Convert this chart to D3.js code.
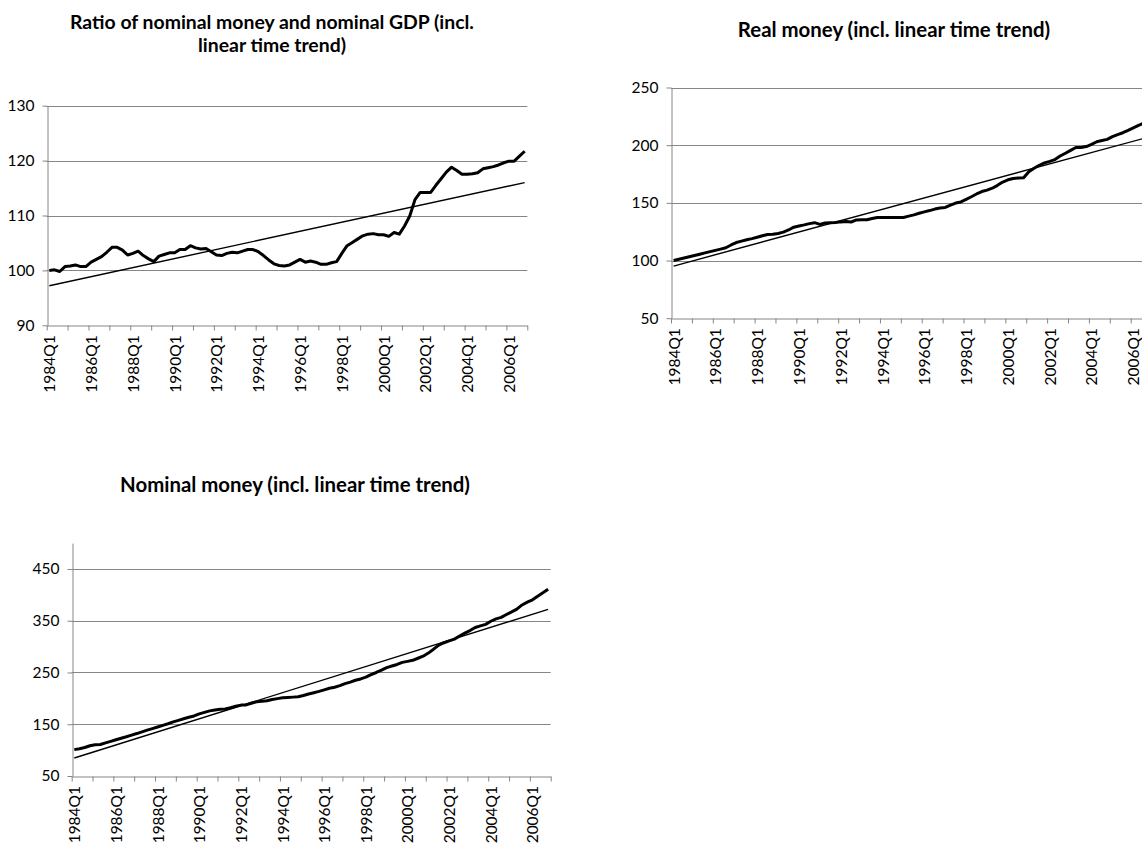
<!DOCTYPE html>
<html>
<head>
<meta charset="utf-8">
<script src="https://cdn.jsdelivr.net/npm/d3@7"></script>
<style>
  body { margin: 0; background: #fff; }
  text { font-family: Lato, "Open Sans", sans-serif; fill: #000; }
  .axis path, .axis line { stroke: #868686; }
</style>
</head>
<body>
<svg id="chart" width="1142" height="850"></svg>
<script>
// quarterly categories 1984Q1 .. 2006Q4
var years = d3.range(1984, 2007);
var quarters = [];
years.forEach(function(y) {
  [1, 2, 3, 4].forEach(function(q) { quarters.push(y + "Q" + q); });
});

// Ratio of nominal money and nominal GDP
var ratioValues = [
  100.0, 100.1, 99.8, 100.7, 100.8, 101.0, 100.7, 100.7, 101.5, 102.0,
  102.5, 103.3, 104.2, 104.2, 103.7, 102.8, 103.1, 103.5, 102.7, 102.1,
  101.6, 102.6, 102.9, 103.2, 103.2, 103.8, 103.8, 104.5, 104.1, 103.9,
  104.0, 103.4, 102.8, 102.7, 103.1, 103.3, 103.2, 103.5, 103.8, 103.8,
  103.4, 102.7, 101.9, 101.2, 100.9, 100.8, 101.0, 101.5, 102.0, 101.5,
  101.7, 101.5, 101.1, 101.1, 101.4, 101.6, 103.1, 104.5, 105.1, 105.7,
  106.3, 106.6, 106.7, 106.5, 106.5, 106.2, 106.9, 106.6, 108.1, 109.9,
  112.9, 114.2, 114.2, 114.2, 115.5, 116.7, 117.9, 118.8, 118.2, 117.5,
  117.5, 117.6, 117.8, 118.5, 118.7, 118.9, 119.2, 119.6, 119.9, 119.9,
  120.8, 121.7
];
var ratioTrend = [97.2, 116.0];   // first and last quarter
var ratioTicks = [90, 100, 110, 120, 130];

// Real money
var realValues = [
  100.0, 101.1, 102.2, 103.3, 104.4, 105.5, 106.6, 107.7, 108.8, 109.9,
  111.1, 113.5, 115.6, 116.8, 118.0, 119.0, 120.2, 121.5, 122.6, 122.7,
  123.5, 124.6, 126.5, 128.9, 130.0, 130.9, 132.0, 132.8, 131.3, 132.6,
  132.8, 133.0, 133.5, 133.8, 133.4, 135.2, 135.3, 135.3, 136.4, 137.3,
  137.3, 137.3, 137.3, 137.3, 137.3, 138.5, 139.6, 141.0, 142.2, 143.3,
  144.6, 145.5, 146.0, 148.0, 149.8, 150.8, 153.0, 155.3, 157.7, 159.8,
  161.0, 162.7, 165.2, 168.0, 170.0, 171.1, 171.5, 171.7, 177.0, 180.0,
  182.6, 184.7, 186.0, 187.5, 190.6, 193.0, 195.5, 198.0, 198.0, 198.8,
  200.7, 203.0, 204.0, 205.0, 207.4, 209.2, 210.8, 212.8, 215.0, 217.2,
  219.0, 220.8
];
var realTrend = [95.2, 207.1];
var realTicks = [50, 100, 150, 200, 250];

// Nominal money
var nominalValues = [
  101, 102.8, 105, 108.5, 110.5, 110.8, 114, 117, 120, 123,
  125.8, 129, 132, 135.3, 138.6, 141.6, 144.6, 147.8, 151, 154.5,
  157.5, 160.5, 163.5, 166, 170, 173, 175.8, 177.5, 178.8, 179.5,
  182, 184.8, 187, 187.4, 190.5, 193.2, 194.5, 195.5, 197.8, 199.5,
  201, 201.8, 202.4, 203, 205.5, 208.5, 211, 213.6, 216.5, 219.5,
  221.5, 224.5, 228.5, 231.5, 235, 237.5, 241, 246, 250, 254.5,
  259.5, 262.5, 265.5, 269.5, 271.5, 273.5, 277.5, 281.5, 287.5, 295,
  303, 307.5, 311, 314.5, 320.5, 326, 331, 337, 340, 343,
  349, 353.5, 356.5, 362, 367, 372.5, 380.5, 386, 390.5, 397.5,
  404, 411
];
var nominalTrend = [84.8, 372.0];
var nominalTicks = [50, 150, 250, 350, 450];

var svg = d3.select("#chart");

function panel(p) {
  var x = d3.scaleBand().domain(quarters).range([p.left, p.right]).padding(0);
  var xEdge = d3.scaleLinear().domain([0, quarters.length]).range([p.left, p.right]);
  var y = d3.scaleLinear().domain(p.domain).range([p.bottom, p.top]);
  var cx = function(i) { return x(quarters[i]) + x.bandwidth() / 2; };

  var g = svg.append("g");

  // gridlines
  g.selectAll(".grid")
      .data(p.ticks.filter(function(t) { return t !== p.domain[0]; }))
    .enter().append("line")
      .attr("x1", p.left).attr("x2", p.right)
      .attr("y1", function(d) { return Math.round(y(d)) + 0.5; })
      .attr("y2", function(d) { return Math.round(y(d)) + 0.5; })
      .style("stroke", "#868686").style("stroke-width", 1);

  // y axis
  var yAxis = d3.axisLeft(y).tickValues(p.ticks).tickSize(5).tickSizeOuter(0).tickPadding(8);
  g.append("g")
      .attr("class", "axis")
      .attr("transform", "translate(" + (Math.round(p.left) + 0.5) + ",0)")
      .call(yAxis)
    .selectAll("text")
      .style("font-size", "15.5px");

  // x axis: ticks between categories every year
  var xAxis = d3.axisBottom(xEdge).tickValues(d3.range(0, quarters.length + 1, 4))
      .tickSize(5).tickSizeOuter(0).tickFormat("");
  g.append("g")
      .attr("class", "axis")
      .attr("transform", "translate(0," + (Math.round(p.bottom) + 0.5) + ")")
      .call(xAxis);

  // category labels every two years
  var labelAxis = d3.axisBottom(x)
      .tickValues(quarters.filter(function(q, i) { return i % 8 === 0; }))
      .tickSize(0);
  var lab = g.append("g")
      .attr("transform", "translate(0.5," + p.bottom + ")")
      .call(labelAxis);
  lab.select(".domain").remove();
  lab.selectAll("text")
      .style("font-size", "15.5px")
      .style("text-anchor", "end")
      .attr("transform", "rotate(-90)")
      .attr("x", -10)
      .attr("y", 0)
      .attr("dy", "0.35em");

  // trend line
  g.append("line")
      .attr("x1", cx(0)).attr("y1", y(p.trend[0]))
      .attr("x2", cx(quarters.length - 1)).attr("y2", y(p.trend[1]))
      .style("stroke", "#000").style("stroke-width", 1.4);

  // series
  var line = d3.line()
      .x(function(d, i) { return cx(i); })
      .y(function(d) { return y(d); });
  g.append("path")
      .datum(p.values)
      .attr("d", line)
      .style("fill", "none")
      .style("stroke", "#000")
      .style("stroke-width", 3)
      .style("stroke-linejoin", "round");

  // title
  var t = g.append("text")
      .attr("text-anchor", "middle")
      .style("font-size", p.titleSize + "px")
      .style("font-weight", "bold");
  p.title.forEach(function(s, i) {
    t.append("tspan").attr("x", p.titleX).attr("y", p.titleY + i * 23).text(s);
  });
}

panel({
  left: 46.7, right: 527.3, top: 105.7, bottom: 325.3,
  domain: [90, 130], ticks: ratioTicks,
  values: ratioValues, trend: ratioTrend,
  title: ["Ratio of nominal money and nominal GDP (incl.", "linear time trend)"],
  titleX: 272, titleY: 28.5, titleSize: 19.4
});

panel({
  left: 671, right: 1151.6, top: 87.5, bottom: 318.2,
  domain: [50, 250], ticks: realTicks,
  values: realValues, trend: realTrend,
  title: ["Real money (incl. linear time trend)"],
  titleX: 894, titleY: 36.5, titleSize: 20.4
});

panel({
  left: 71.7, right: 550.7, top: 543.1, bottom: 776,
  domain: [50, 500], ticks: nominalTicks,
  values: nominalValues, trend: nominalTrend,
  title: ["Nominal money (incl. linear time trend)"],
  titleX: 295, titleY: 491.5, titleSize: 20.4
});
</script>
</body>
</html>
